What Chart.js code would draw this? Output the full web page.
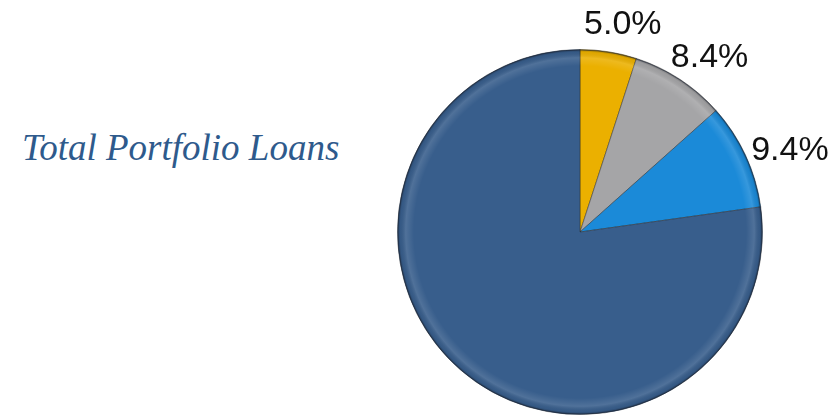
<!DOCTYPE html>
<html>
<head>
<meta charset="utf-8">
<script src="https://cdn.jsdelivr.net/npm/chart.js@4/dist/chart.umd.min.js"></script>
<style>
  html, body { margin: 0; padding: 0; background: #fff; }
  #wrap { position: relative; width: 834px; height: 417px; }
  #title {
    position: absolute; left: 22px; top: 126px;
    font-family: "Liberation Serif", serif; font-style: italic;
    font-size: 37px; color: #2E5A8C; white-space: nowrap;
  }
  canvas { position: absolute; left: 0; top: 0; }
</style>
</head>
<body>
<div id="wrap">
  <div id="title">Total Portfolio Loans</div>
  <canvas id="loanPie" width="834" height="417"></canvas>
</div>
<script>
const categories = ['Segment A', 'Segment B', 'Segment C', 'Segment D'];
const shares = [5.0, 8.4, 9.4, 77.2];
const shownLabels = ['5.0%', '8.4%', '9.4%', ''];
const sliceColors = ['#EBB000', '#A5A5A7', '#1B8AD8', '#385E8C'];

// soft beveled rim laid over the whole pie
const rimBevel = {
    id: 'rimBevel',
    afterDatasetsDraw(chart) {
        const arc = chart.getDatasetMeta(0).data[0];
        if (!arc) return;
        const ctx = chart.ctx;
        const r = arc.outerRadius;
        ctx.save();
        ctx.beginPath();
        ctx.arc(arc.x, arc.y, r, 0, Math.PI * 2);
        ctx.clip();
        const g = ctx.createRadialGradient(arc.x, arc.y, 0, arc.x, arc.y, r);
        g.addColorStop(0, 'rgba(255,255,255,0)');
        g.addColorStop(0.91, 'rgba(255,255,255,0)');
        g.addColorStop(0.955, 'rgba(255,255,255,0.12)');
        g.addColorStop(0.985, 'rgba(0,0,0,0.05)');
        g.addColorStop(1, 'rgba(0,0,0,0.3)');
        ctx.fillStyle = g;
        ctx.fillRect(arc.x - r, arc.y - r, r * 2, r * 2);
        ctx.restore();
        ctx.save();
        ctx.beginPath();
        ctx.arc(arc.x, arc.y, r - 0.5, 0, Math.PI * 2);
        ctx.strokeStyle = 'rgba(30,40,60,0.5)';
        ctx.lineWidth = 1;
        ctx.stroke();
        ctx.restore();
    }
};

const pctLabels = {
    id: 'pctLabels',
    afterDatasetsDraw(chart) {
        const ctx = chart.ctx;
        const meta = chart.getDatasetMeta(0);
        ctx.save();
        ctx.font = '34px "Liberation Sans", Arial, sans-serif';
        ctx.fillStyle = '#111';
        ctx.textAlign = 'center';
        ctx.textBaseline = 'middle';
        meta.data.forEach((arc, i) => {
            if (!shownLabels[i]) return;
            const mid = (arc.startAngle + arc.endAngle) / 2;
            const d = arc.outerRadius + 40;
            const x = arc.x + Math.cos(mid) * d + 8;
            const y = arc.y + Math.sin(mid) * d + 12;
            ctx.fillText(shownLabels[i], x, y);
        });
        ctx.restore();
    }
};

new Chart(document.getElementById('loanPie'), {
    type: 'pie',
    data: {
        labels: categories,
        datasets: [{
            data: shares,
            backgroundColor: sliceColors,
            borderColor: 'rgba(40,40,40,0.45)',
            borderWidth: 1
        }]
    },
    options: {
        responsive: false,
        animation: false,
        layout: { padding: { left: 397, right: 71, top: 49, bottom: 2 } },
        plugins: {
            legend: { display: false },
            tooltip: { enabled: false }
        }
    },
    plugins: [rimBevel, pctLabels]
});
</script>
</body>
</html>
